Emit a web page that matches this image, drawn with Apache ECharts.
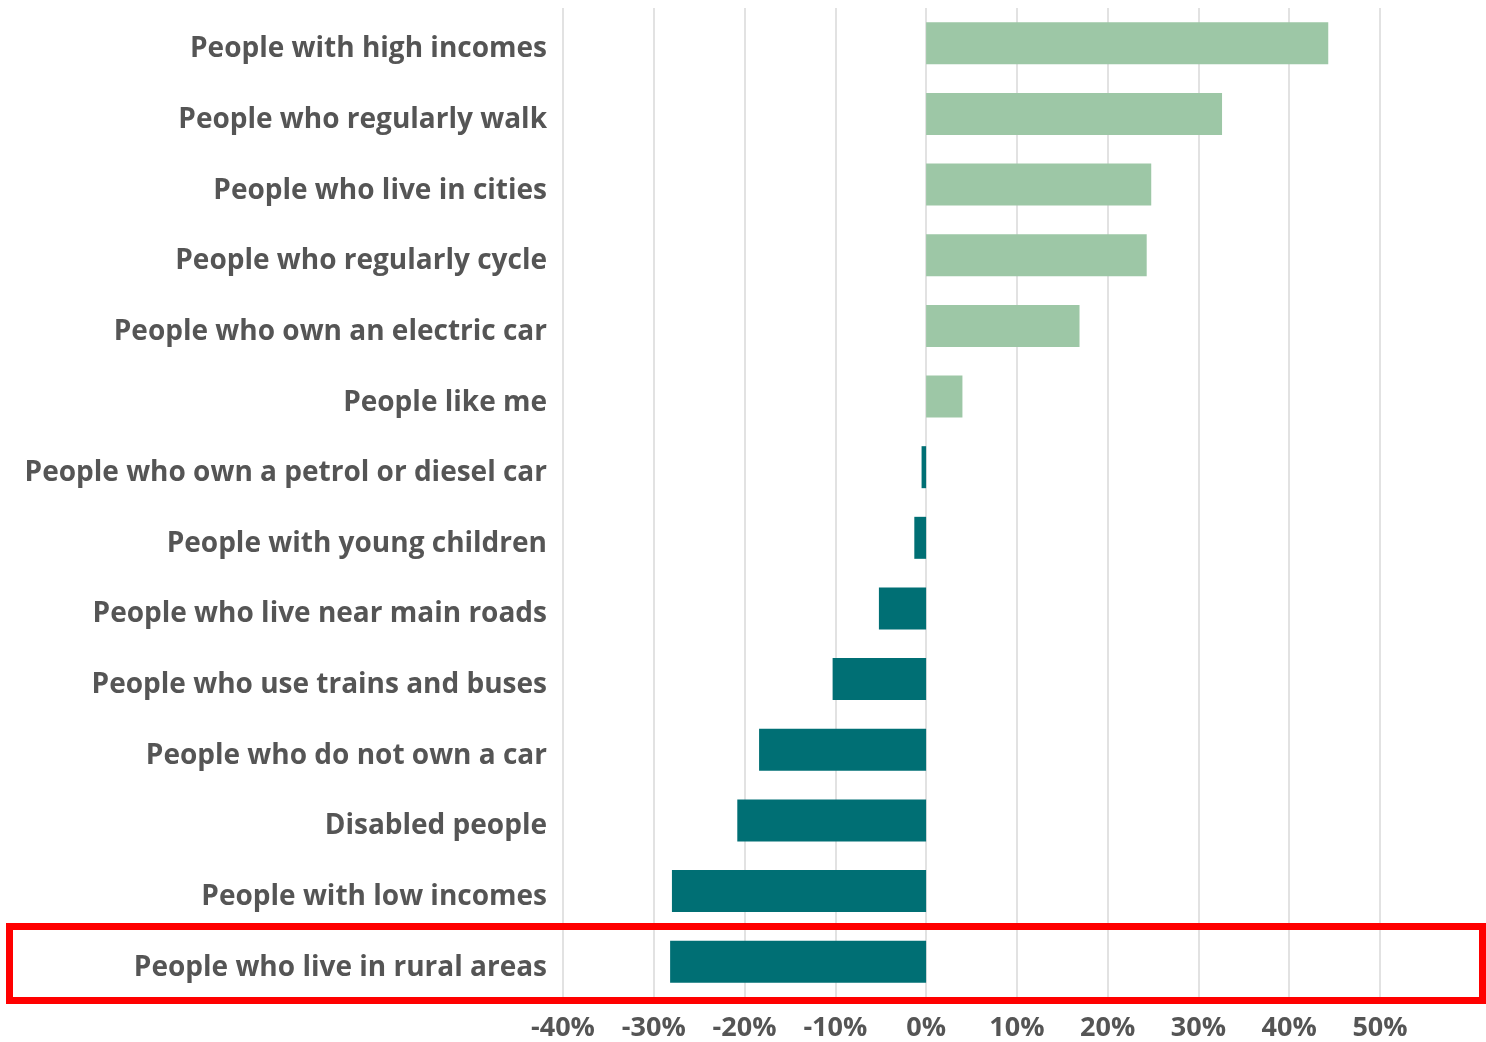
<!DOCTYPE html>
<html><head><meta charset="utf-8">
<script src="https://cdn.jsdelivr.net/npm/echarts@6/dist/echarts.min.js"></script>
<style>html,body{margin:0;padding:0;background:#fff}#c{width:1486px;height:1042px}</style>
</head><body><div id="c"></div>
<script>
const categories = [
  "People with high incomes",
  "People who regularly walk",
  "People who live in cities",
  "People who regularly cycle",
  "People who own an electric car",
  "People like me",
  "People who own a petrol or diesel car",
  "People with young children",
  "People who live near main roads",
  "People who use trains and buses",
  "People who do not own a car",
  "Disabled people",
  "People with low incomes",
  "People who live in rural areas"
];
const values = [44.3, 32.6, 24.8, 24.3, 16.9, 4.0, -0.5, -1.3, -5.2, -10.3, -18.4, -20.8, -28.0, -28.2];
const xTicks = { min: -40, max: 50, interval: 10 };
const posColor = '#9dc7a6', negColor = '#006f74';

const chart = echarts.init(document.getElementById('c'), null, {renderer: 'canvas'});
chart.setOption({
  animation: false,
  grid: { left: 563, right: 106, top: 8, bottom: 38, containLabel: false },
  xAxis: {
    type: 'value', min: xTicks.min, max: xTicks.max, interval: xTicks.interval,
    axisLine: { show: false }, axisTick: { show: false },
    splitLine: { show: true, lineStyle: { color: '#e2e2e2', width: 2 } },
    axisLabel: { formatter: '{value}%', color: '#555555', fontSize: 27, fontWeight: 'bold',
      fontFamily: 'Open Sans', margin: 18 }
  },
  yAxis: {
    type: 'category', data: categories, inverse: true,
    axisLine: { show: false }, axisTick: { show: false },
    axisLabel: { color: '#555555', fontSize: 28, fontWeight: 'bold', fontFamily: 'Open Sans',
      margin: 16, verticalAlign: 'top', lineHeight: 12 }
  },
  series: [{
    type: 'bar', barWidth: 42,
    data: values.map(v => ({ value: v, itemStyle: { color: v >= 0 ? posColor : negColor } }))
  }],
  graphic: [{
    type: 'rect', shape: { x: 9.5, y: 926.5, width: 1473, height: 74 },
    style: { fill: 'none', stroke: '#ff0000', lineWidth: 7 }, z: 100
  }]
});
</script></body></html>
